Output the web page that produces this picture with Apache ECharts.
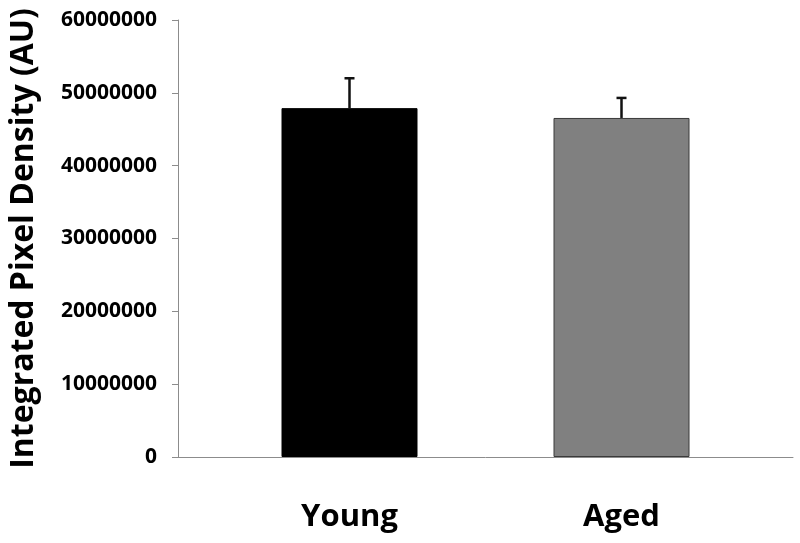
<!DOCTYPE html>
<html>
<head>
<meta charset="utf-8">
<script src="https://cdn.jsdelivr.net/npm/echarts@6/dist/echarts.min.js"></script>
<style>html,body{margin:0;padding:0;background:#fff;}#c{width:800px;height:543px;}</style>
</head>
<body>
<div id="c"></div>
<script>
var categories = ['Young', 'Aged'];
var means = [47900000, 46550000];
var errors = [4100000, 2750000];
var barColors = ['#000000', '#808080'];
var yTicks = { min: 0, max: 60000000, interval: 10000000 };

var chart = echarts.init(document.getElementById('c'));
var font = '"Open Sans", "Liberation Sans", sans-serif';
chart.setOption({
  animation: false,
  backgroundColor: '#ffffff',
  grid: [
    { left: 213.5, right: 42.5, top: 20, bottom: 86 },
    { left: 178, right: 7, top: 20, bottom: 86 }
  ],
  xAxis: [
    {
      type: 'category', gridIndex: 0, data: categories,
      axisLine: { show: false }, axisTick: { show: false },
      axisLabel: { fontFamily: font, fontWeight: 'bold', fontSize: 31, color: '#000', margin: 45 }
    },
    {
      type: 'value', gridIndex: 1, min: 0, max: 1,
      axisLine: { show: true, lineStyle: { color: '#8c8c8c', width: 1 } },
      axisTick: { show: false }, axisLabel: { show: false }, splitLine: { show: false }
    }
  ],
  yAxis: [
    {
      type: 'value', gridIndex: 0, min: yTicks.min, max: yTicks.max, interval: yTicks.interval,
      offset: 35.5,
      name: 'Integrated Pixel Density (AU)', nameLocation: 'middle', nameGap: 138,
      nameTextStyle: { fontFamily: font, fontWeight: 'bold', fontSize: 32, color: '#000' },
      axisLine: { show: true, lineStyle: { color: '#8c8c8c', width: 1 } },
      axisTick: { show: true, length: 6, lineStyle: { color: '#8c8c8c' } },
      axisLabel: { fontFamily: font, fontWeight: 'bold', fontSize: 21, color: '#000', margin: 21,
        formatter: function (v) { return String(v); } },
      splitLine: { show: false }
    },
    { type: 'value', gridIndex: 1, show: false, min: 0, max: 1 }
  ],
  series: [
    {
      type: 'bar', xAxisIndex: 0, yAxisIndex: 0, barWidth: 136,
      data: means.map(function (v, i) {
        return { value: v, itemStyle: { color: barColors[i], borderColor: i === 0 ? '#000' : '#3a3a3a', borderWidth: 1 } };
      })
    },
    {
      type: 'custom', xAxisIndex: 0, yAxisIndex: 0, z: 5,
      data: means.map(function (v, i) { return [i, v, v + errors[i]]; }),
      renderItem: function (params, api) {
        var b = api.coord([api.value(0), api.value(1)]);
        var t = api.coord([api.value(0), api.value(2)]);
        var hw = 5;
        return {
          type: 'group',
          children: [
            { type: 'line', shape: { x1: b[0], y1: b[1], x2: t[0], y2: t[1] }, style: { stroke: '#111', lineWidth: 2.5 } },
            { type: 'line', shape: { x1: t[0] - hw, y1: t[1], x2: t[0] + hw, y2: t[1] }, style: { stroke: '#111', lineWidth: 2.5 } }
          ]
        };
      }
    }
  ]
});
</script>
</body>
</html>
